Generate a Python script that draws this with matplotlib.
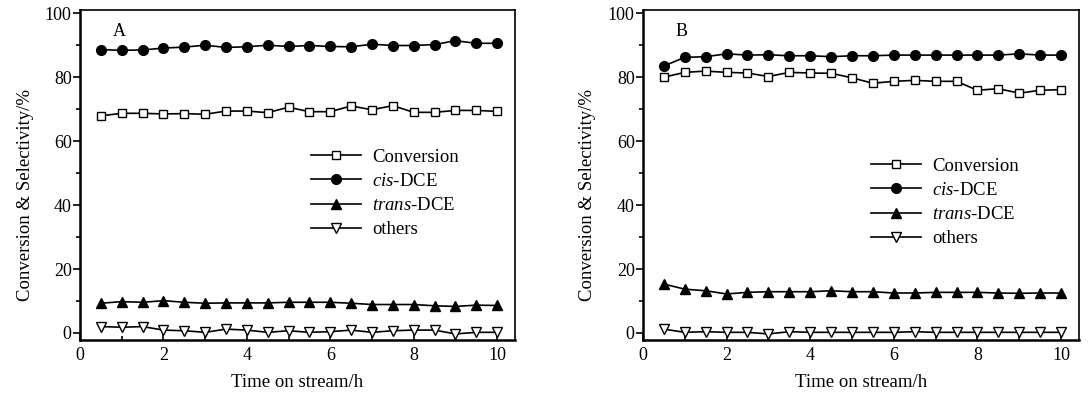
import numpy as np
import matplotlib
matplotlib.use('Agg')
import matplotlib.pyplot as plt
from matplotlib.ticker import MultipleLocator

plt.rcParams['font.family'] = ['Liberation Serif', 'DejaVu Serif']
plt.rcParams['mathtext.fontset'] = 'custom'
plt.rcParams['mathtext.rm'] = 'Liberation Serif'
plt.rcParams['mathtext.it'] = 'Liberation Serif:italic'

time_h = [0.5, 1, 1.5, 2, 2.5, 3, 3.5, 4, 4.5, 5, 5.5, 6, 6.5, 7, 7.5, 8, 8.5, 9, 9.5, 10]

# panel A
conv_a = [67.9, 68.7, 68.7, 68.5, 68.6, 68.4, 69.4, 69.4, 68.9, 70.6,
          69.2, 69.2, 71.0, 69.8, 71.1, 69.0, 69.0, 69.6, 69.6, 69.3]
cis_a = [88.6, 88.4, 88.5, 89.1, 89.4, 90.0, 89.3, 89.5, 90.0, 89.6,
         89.9, 89.6, 89.5, 90.3, 89.9, 89.9, 90.2, 91.4, 90.6, 90.6]
trans_a = [9.3, 9.8, 9.6, 10.1, 9.6, 9.3, 9.4, 9.4, 9.4, 9.6,
           9.6, 9.6, 9.3, 8.9, 8.9, 8.9, 8.5, 8.3, 8.7, 8.6]
others_a = [2.0, 1.8, 2.0, 0.9, 0.7, 0.2, 1.2, 0.9, 0.2, 0.7,
            0.2, 0.4, 0.9, 0.2, 0.7, 0.9, 0.9, -0.3, 0.2, 0.2]

# panel B
conv_b = [80.0, 81.5, 81.9, 81.5, 81.3, 80.2, 81.5, 81.3, 81.2, 79.8,
          78.1, 78.7, 79.0, 78.7, 78.7, 75.9, 76.4, 75.0, 75.9, 76.1]
cis_b = [83.5, 86.2, 86.4, 87.3, 86.9, 87.0, 86.7, 86.7, 86.4, 86.7,
         86.7, 86.9, 86.9, 86.9, 86.9, 86.9, 86.9, 87.3, 86.9, 86.9]
trans_b = [15.3, 13.7, 13.2, 12.2, 12.7, 12.9, 12.9, 12.9, 13.2, 12.9,
           12.9, 12.5, 12.5, 12.7, 12.7, 12.7, 12.5, 12.4, 12.5, 12.5]
others_b = [1.2, 0.2, 0.4, 0.2, 0.2, -0.3, 0.4, 0.2, 0.2, 0.2,
            0.2, 0.2, 0.4, 0.2, 0.2, 0.2, 0.2, 0.2, 0.2, 0.2]

labels = ['Conversion', r'$\it{cis}$-DCE', r'$\it{trans}$-DCE', 'others']


def draw_panel(ax, series, tag, leg_xy):
    styles = [dict(marker='s', mfc='white', ms=6),
              dict(marker='o', mfc='black', ms=7),
              dict(marker='^', mfc='black', ms=7),
              dict(marker='v', mfc='white', ms=7.5)]
    for vals, st, lab in zip(series, styles, labels):
        ax.plot(time_h, vals, color='black', lw=1.2, mec='black', mew=1.0,
                label=lab, **st)
    ax.set_xlim(0, 10.43)
    ax.set_ylim(-2.2, 101)
    ax.xaxis.set_major_locator(MultipleLocator(2))
    ax.xaxis.set_minor_locator(MultipleLocator(1))
    ax.yaxis.set_major_locator(MultipleLocator(20))
    ax.yaxis.set_minor_locator(MultipleLocator(10))
    ax.tick_params(axis='x', which='both', direction='in', top=False, labelsize=13, pad=5)
    ax.tick_params(axis='x', which='major', length=5, width=1.2)
    ax.tick_params(axis='x', which='minor', length=3, width=1.2)
    ax.tick_params(axis='y', which='both', direction='out', right=False, labelsize=13, pad=1)
    ax.tick_params(axis='y', which='major', length=5, width=1.2)
    ax.tick_params(axis='y', which='minor', length=3, width=1.2)
    for side in ['left', 'bottom']:
        ax.spines[side].set_linewidth(1.8)
    for side in ['top', 'right']:
        ax.spines[side].set_linewidth(1.2)
    ax.set_xlabel('Time on stream/h', fontsize=13.5, labelpad=7)
    ax.set_ylabel('Conversion & Selectivity/%', fontsize=13.5, labelpad=5)
    ax.yaxis.set_label_coords(-0.107, 0.44)
    ax.text(0.075, 0.96, tag, transform=ax.transAxes, fontsize=13, va='top')
    ax.legend(loc='upper left', bbox_to_anchor=leg_xy, frameon=False, fontsize=13.5,
              handlelength=2.7, handletextpad=0.6, labelspacing=0.38,
              borderpad=0, borderaxespad=0)


fig = plt.figure(figsize=(10.92, 3.96), dpi=100)
ax_a = fig.add_axes([0.0733, 0.1414, 0.3983, 0.8333])
ax_b = fig.add_axes([0.5888, 0.1414, 0.3993, 0.8333])

draw_panel(ax_a, [conv_a, cis_a, trans_a, others_a], 'A', (0.53, 0.58))
draw_panel(ax_b, [conv_b, cis_b, trans_b, others_b], 'B', (0.522, 0.553))

fig.savefig('out.png', dpi=100)
